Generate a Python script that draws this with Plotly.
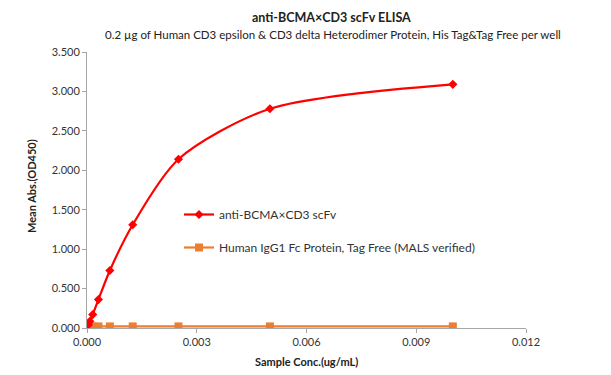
import plotly.graph_objects as go

conc = [0.01, 0.005, 0.0025, 0.00125, 0.000625, 0.0003125, 0.00015625, 0.000078125, 0.0000390625]
od_bcma = [3.09, 2.78, 2.14, 1.31, 0.73, 0.36, 0.17, 0.085, 0.04]
od_fc = [0.02, 0.02, 0.02, 0.02, 0.02, 0.02, 0.02, 0.02, 0.02]

name_bcma = "anti-BCMA×CD3 scFv"
name_fc = "Human IgG1 Fc Protein, Tag Free (MALS verified)"
title = "anti-BCMA×CD3 scFv ELISA"
subtitle = "0.2 µg of Human CD3 epsilon & CD3 delta Heterodimer Protein, His Tag&Tag Free per well"
x_ticks = [0, 0.003, 0.006, 0.009, 0.012]
y_ticks = [0, 0.5, 1.0, 1.5, 2.0, 2.5, 3.0, 3.5]

FONT = "Lato, 'Open Sans', sans-serif"
# page body has an 8px margin, so figure coordinates = screen - 8
OFF = 8
W, H = 611 - OFF, 375 - OFF
L, R, T, B = 87 - OFF, 526 - OFF, 52 - OFF, 328 - OFF


def px(x):
    return (x - OFF - L) / (R - L)


def py(y):
    return (B - (y - OFF)) / (B - T)


fig = go.Figure()
fig.add_trace(go.Scatter(
    x=conc[::-1], y=od_fc[::-1], name=name_fc, mode="lines+markers",
    legendgroup="fc", legendrank=2,
    line=dict(color="#ED7D31", width=2.2),
    marker=dict(symbol="square", size=8, color="#ED7D31"),
))
fig.add_trace(go.Scatter(
    x=conc[::-1], y=od_bcma[::-1], name=name_bcma, mode="lines+markers",
    legendgroup="bcma", legendrank=1,
    line=dict(color="#FF0000", width=2.2, shape="spline", smoothing=0.8),
    marker=dict(symbol="diamond", size=7, color="#FF0000"),
))

fig.update_layout(
    width=W, height=H,
    margin=dict(l=L, r=W - R, t=T, b=H - B),
    paper_bgcolor="white", plot_bgcolor="white",
    font=dict(family=FONT, size=11, color="#333333"),
    showlegend=True,
    legend=dict(
        x=px(179), y=py(200), xanchor="left", yanchor="top",
        traceorder="grouped", bgcolor="rgba(0,0,0,0)",
        font=dict(size=12, color="#333333"),
        tracegroupgap=14, itemwidth=30,
    ),
)

fig.add_annotation(text="<b>" + title + "</b>", xref="paper", yref="paper",
                   x=px(331), y=py(18),
                   xanchor="center", yanchor="middle", showarrow=False,
                   font=dict(size=12.5, color="#222222", family=FONT))
fig.add_annotation(text=subtitle, xref="paper", yref="paper",
                   x=px(333), y=py(35),
                   xanchor="center", yanchor="middle", showarrow=False,
                   font=dict(size=11.5, color="#222222", family=FONT))
fig.add_annotation(text="<b>Sample Conc.(ug/mL)</b>", xref="paper", yref="paper",
                   x=px(306), y=py(361),
                   xanchor="center", yanchor="middle", showarrow=False,
                   font=dict(size=11, color="#222222", family=FONT))
fig.add_annotation(text="<b>Mean Abs.(OD450)</b>", xref="paper", yref="paper",
                   x=px(31), y=py(186), textangle=-90,
                   xanchor="center", yanchor="middle", showarrow=False,
                   font=dict(size=11, color="#222222", family=FONT))

fig.update_xaxes(
    range=[0, 0.012], tickvals=x_ticks, tickformat=".3f",
    showline=True, linecolor="#A6A6A6", linewidth=1,
    ticks="outside", ticklen=4, tickcolor="#A6A6A6",
    showgrid=False, zeroline=False, automargin=False,
    tickfont=dict(size=11, color="#333333"),
)
fig.update_yaxes(
    range=[0, 3.5], tickvals=y_ticks, tickformat=".3f",
    showline=True, linecolor="#A6A6A6", linewidth=1,
    ticks="outside", ticklen=4, tickcolor="#A6A6A6",
    showgrid=False, zeroline=False, automargin=False,
    tickfont=dict(size=11, color="#333333"),
)

fig.write_html("out.html")
